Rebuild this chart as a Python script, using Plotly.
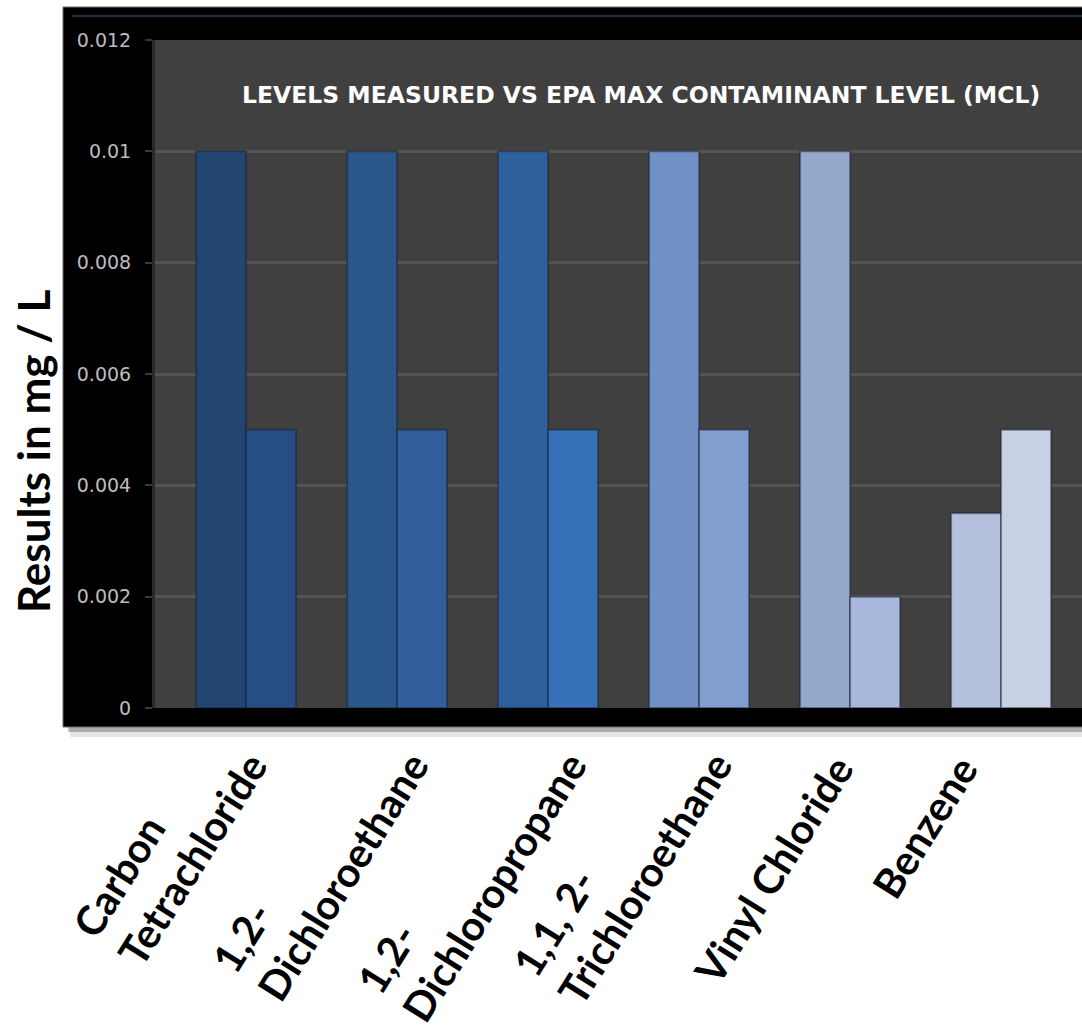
import plotly.graph_objects as go

categories = ["Carbon<br>Tetrachloride", "1,2-<br>Dichloroethane", "1,2-<br>Dichloropropane",
              "1,1, 2-<br>Trichloroethane", "Vinyl Chloride", "Benzene"]
cat_keys = ["Carbon Tetrachloride", "1,2-Dichloroethane", "1,2-Dichloropropane",
            "1,1,2-Trichloroethane", "Vinyl Chloride", "Benzene"]
series_a = [0.01, 0.01, 0.01, 0.01, 0.01, 0.0035]
series_b = [0.005, 0.005, 0.005, 0.005, 0.002, 0.005]
y_ticks = [0, 0.002, 0.004, 0.006, 0.008, 0.01, 0.012]

colors_a = ['#234571', '#2a5689', '#2f609e', '#7090c6', '#94a8cc', '#b4c0dc']
colors_b = ['#274e84', '#305f9c', '#3670b8', '#829ed0', '#a8b8dc', '#c8d0e4']

fig = go.Figure()
fig.add_trace(go.Bar(x=cat_keys, y=series_a, marker=dict(color=colors_a,
                     line=dict(color='rgba(20,30,50,0.45)', width=2)), showlegend=False))
fig.add_trace(go.Bar(x=cat_keys, y=series_b, marker=dict(color=colors_b,
                     line=dict(color='rgba(20,30,50,0.45)', width=2)), showlegend=False))

W, H = 1082, 1033
L, R, T, B = 155, 0, 40, 325
pw, ph = W - L - R, H - T - B

def px(xp):
    return (xp - L) / pw

def py(yp):
    return (H - B - yp) / ph

shapes = [
    # shadow
    dict(type='rect', xref='paper', yref='paper', x0=px(70), x1=1.05, y0=py(737), y1=py(727),
         fillcolor='rgba(0,0,0,0.10)', line_width=0, layer='below'),
    dict(type='rect', xref='paper', yref='paper', x0=px(68), x1=1.05, y0=py(732), y1=py(727),
         fillcolor='rgba(0,0,0,0.25)', line_width=0, layer='below'),
    # black chart area
    dict(type='rect', xref='paper', yref='paper', x0=px(63), x1=1.05, y0=py(727), y1=py(7),
         fillcolor='#000000', line=dict(color='#6a6a6a', width=1), layer='below'),
    # thin blue line
    dict(type='line', xref='paper', yref='paper', x0=px(72), x1=1.05, y0=py(16), y1=py(16),
         line=dict(color='#16324a', width=2), layer='below'),
    # plot area
    dict(type='rect', xref='paper', yref='paper', x0=0, x1=1.05, y0=0, y1=1,
         fillcolor='#404040', line_width=0, layer='below'),
]

annotations = [
    dict(text='LEVELS MEASURED VS EPA MAX CONTAMINANT LEVEL (MCL)', xref='paper', yref='paper',
         x=px(641), y=py(95), xanchor='center', yanchor='middle', showarrow=False,
         font=dict(family='DejaVu Sans', size=23.5, color='white', weight='bold')),
    dict(text='<b>Results in mg / L</b>', xref='paper', yref='paper', x=px(33), y=py(452),
         xanchor='center', yanchor='middle', textangle=-90, showarrow=False,
         font=dict(family='Lato', size=44, color='black')),
]
for key, lab in zip(cat_keys, categories):
    multi = '<br>' in lab
    annotations.append(dict(text='<b>' + lab + '</b>', xref='x', yref='paper', x=key, y=py(745),
                            xshift=-77, yshift=32 if multi else 0,
                            xanchor='center', yanchor='top', textangle=-58,
                            align='left', showarrow=False,
                            font=dict(family='Lato', size=41, color='black')))

fig.update_layout(
    width=W, height=H, autosize=False,
    margin=dict(l=L, r=R, t=T, b=B, pad=0),
    paper_bgcolor='white', plot_bgcolor='#404040',
    barmode='group', bargap=0.338, bargroupgap=0,
    shapes=shapes, annotations=annotations,
    xaxis=dict(type='category', range=[-0.603, 5.536], showticklabels=False, showgrid=False,
               ticks='', zeroline=False, showline=False),
    yaxis=dict(range=[0, 0.012], tickvals=y_ticks, ticks='outside', ticklen=7, tickwidth=2,
               tickcolor='#3a3a3a', ticklabelstandoff=10, gridcolor='#545454', gridwidth=2.5,
               showline=True, linecolor='#2a2a2a', linewidth=3, zeroline=False,
               tickfont=dict(family='DejaVu Sans', size=19, color='#bdbdbd')),
)

fig.write_html('out.html')
